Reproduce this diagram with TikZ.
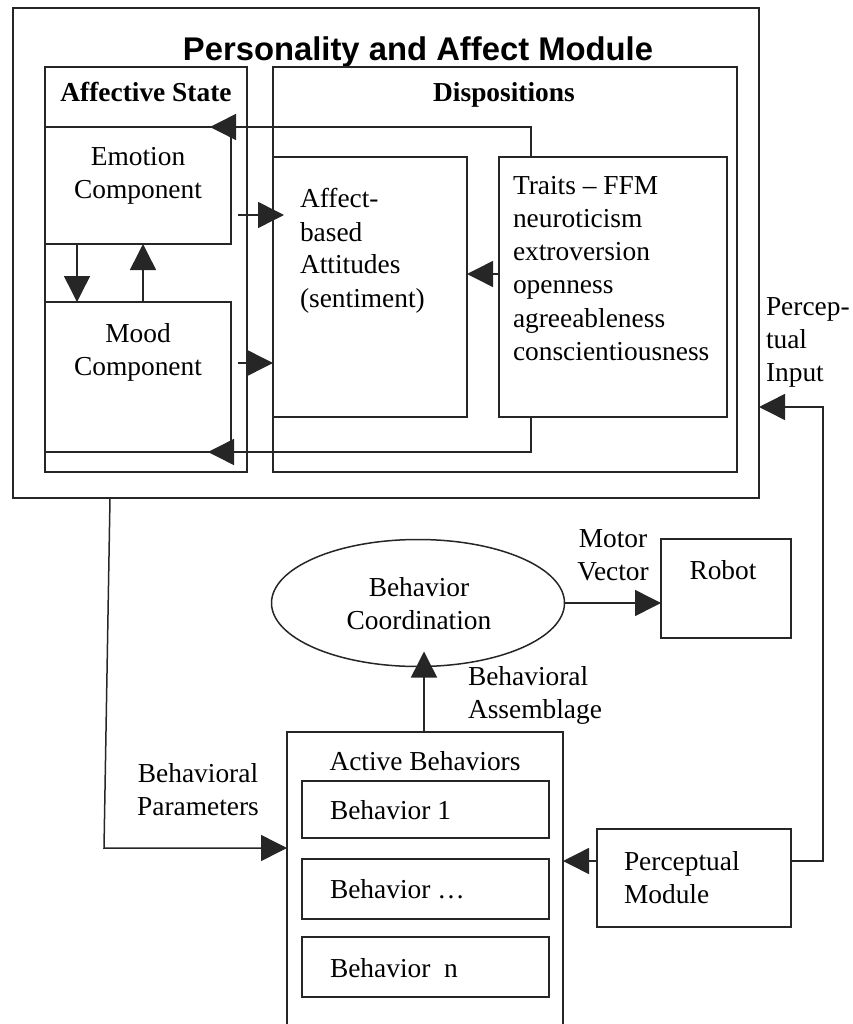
\documentclass[tikz,border=0pt]{standalone}
\usepackage{fontspec}
\setmainfont{Liberation Serif}
\newfontfamily\headsans{Liberation Sans}
\usetikzlibrary{arrows.meta,shapes.geometric,calc}

% multi-line text whose baseline is that of its first line
\newcommand\stacktext[2]{\begin{tabular}[t]{@{}#1@{}}#2\end{tabular}}
% rectangle node given by its corners: name, x1, y1, x2, y2
\newcommand\boxnode[5]{\node[frame, minimum width={(#4-#2)*1pt}, minimum height={(#5-#3)*1pt}] (#1) at ({(#2+#4)/2},{(#3+#5)/2}) {};}

\begin{document}
\begin{tikzpicture}[x=1pt,y=-1pt,
  every node/.style={inner sep=0pt, outer sep=0pt, font=\fontsize{27.4}{33}\selectfont},
  frame/.style={draw=black!85, line width=1.5pt, rectangle},
  wire/.style={draw=black!85, line width=1.5pt},
  arr/.style={wire, -{Triangle[length=26pt,width=26pt]}},
  txt/.style={anchor=base, text=black},
  txtl/.style={anchor=base west, text=black},
]
\useasboundingbox (0,0) rectangle (852,1024);

% personality and affect module
\boxnode{PAM}{13}{8}{759}{498}
\node[txt, font=\headsans\bfseries\fontsize{32.8}{38}\selectfont] (title) at (418,61) {Personality and Affect Module};

\boxnode{AS}{45}{67}{247}{472}
\node[txt, font=\bfseries\fontsize{27.4}{33}\selectfont] (astitle) at (146,102) {Affective State};
\boxnode{EMO}{45}{127}{231}{244}
\node[txt] (emotxt) at (138,166) {\stacktext{c}{Emotion\\Component}};
\boxnode{MOOD}{45}{302}{231}{452}
\node[txt] (moodtxt) at (138,342) {\stacktext{c}{Mood\\Component}};

\boxnode{DISP}{273}{67}{737}{472}
\node[txt, font=\bfseries\fontsize{27.4}{33}\selectfont] (disptitle) at (504,102) {Dispositions};
\boxnode{ATT}{273}{157}{467}{417}
\node[txtl] (atttxt) at (300,208) {\stacktext{l}{Affect-\\based\\Attitudes\\(sentiment)}};
\boxnode{TRAITS}{499}{157}{727}{417}
\node[txtl] (traitstxt) at (513,195) {\stacktext{l}{Traits -- FFM\\neuroticism\\extroversion\\openness\\agreeableness\\conscientiousness}};

% behaviour side
\node[draw=black!85, line width=1.5pt, ellipse, minimum width=293pt, minimum height=127pt] (BC) at (418,603) {};
\node[txt] (bctxt) at (419,596) {\stacktext{c}{Behavior\\Coordination}};

\boxnode{ROBOT}{661}{539}{791}{638}
\node[txt] (robottxt) at (723,579) {Robot};

\boxnode{ACT}{287}{732}{563}{1026}
\node[txt] (acttxt) at (425,770) {Active Behaviors};
\boxnode{B1}{302}{781}{549}{838}
\node[txtl] (b1txt) at (330,819) {Behavior 1};
\boxnode{B2}{302}{859}{549}{919}
\node[txtl] (b2txt) at (330,898) {Behavior \dots};
\boxnode{BN}{302}{937}{549}{997}
\node[txtl] (bntxt) at (330,977) {Behavior\ \ n};

\boxnode{PM}{597}{829}{791}{927}
\node[txtl] (pmtxt) at (624,870) {\stacktext{l}{Perceptual\\Module}};

% connector labels
\node[txtl] (pilbl) at (766,315) {\stacktext{l}{Percep-\\tual\\Input}};
\node[txt] (mvlbl) at (613,547) {\stacktext{c}{Motor\\Vector}};
\node[txtl] (balbl) at (468,685) {\stacktext{l}{Behavioral\\Assemblage}};
\node[txt] (bplbl) at (198,782) {\stacktext{c}{Behavioral\\Parameters}};

% connectors inside the module
\draw[arr] ($(TRAITS.north west)+(32,0)$) |- ($(EMO.north east)+(-21,0)$);
\draw[arr] ($(TRAITS.south west)+(32,0)$) |- ($(MOOD.south east)+(-23,0)$);
\draw[arr] ($(EMO.south east)+(7,-29)$) -- ($(ATT.west |- EMO.south east)+(11,-29)$);
\draw[arr] ($(MOOD.north east)+(7,61)$) -- ($(ATT.west |- MOOD.north east)+(0,61)$);
\draw[arr] ($(EMO.south west)+(32,0)$) -- ($(MOOD.north west)+(32,0)$);
\draw[arr] ($(MOOD.north west)+(98,0)$) -- ($(EMO.south west)+(98,0)$);
\draw[arr] ($(TRAITS.north west)+(0,117)$) -- ($(ATT.north east)+(0,117)$);

% connectors between modules
\coordinate (bend) at (104,848);
\draw[arr] ($(PAM.south west)+(97,0)$) -- (bend) -- (bend -| ACT.west);
\draw[arr] ($(ACT.north west)+(137,0)$) -- ($(BC.south)+(6,-15)$);
\draw[arr] (BC.east) -- (BC.east -| ROBOT.west);
\draw[arr] ($(PM.north west)+(0,32)$) -- ($(ACT.north east |- PM.north west)+(0,32)$);
\coordinate (pin) at (823,407);
\draw[arr] ($(PM.north east)+(0,32)$) -| (pin) -- (pin -| PAM.east);
\end{tikzpicture}
\end{document}
